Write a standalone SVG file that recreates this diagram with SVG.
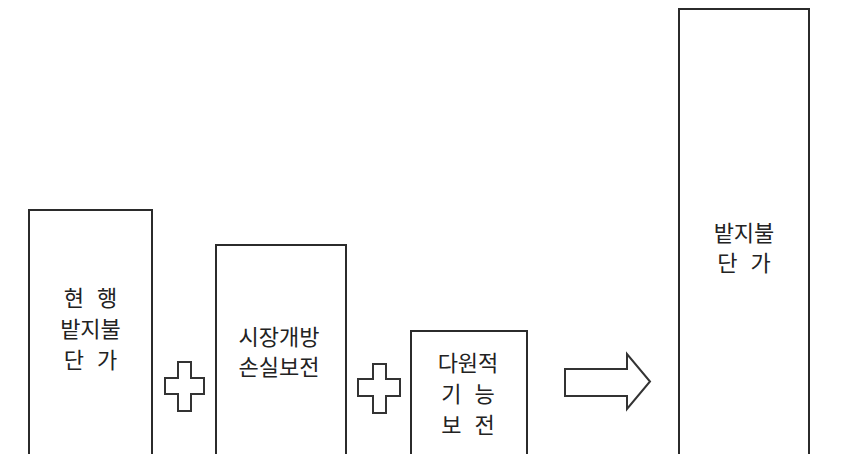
<svg xmlns="http://www.w3.org/2000/svg" width="864" height="454" viewBox="0 0 864 454">
<style>
.box{fill:#fff;stroke:#2b2b2b;stroke-width:2}
.sym{fill:#fff;stroke:#333;stroke-width:2;stroke-linejoin:miter}
.t{font-family:"Noto Sans CJK KR","Noto Sans CJK SC",sans-serif;font-size:22px;fill:#222;text-anchor:middle;word-spacing:8px}
</style>
<rect width="864" height="454" fill="#fff"/>
<g id="node-current">
<rect class="box" x="29" y="210" width="123" height="260"/>
<text class="t" x="90.5" y="306">현 행</text>
<text class="t" x="90.5" y="337">밭지불</text>
<text class="t" x="90.5" y="368">단 가</text>
</g>
<g id="node-market">
<rect class="box" x="216" y="245" width="130" height="225"/>
<text class="t" x="279" y="345">시장개방</text>
<text class="t" x="279" y="375">손실보전</text>
</g>
<g id="node-multi">
<rect class="box" x="411" y="331" width="116" height="140"/>
<text class="t" x="468" y="371">다원적</text>
<text class="t" x="468" y="402">기 능</text>
<text class="t" x="468" y="433">보 전</text>
</g>
<g id="node-result">
<rect class="box" x="679" y="9" width="130" height="460"/>
<text class="t" x="744" y="241">밭지불</text>
<text class="t" x="744" y="271">단 가</text>
</g>
<g id="connectors">
<path class="sym" d="M178,362 H191 V378 H204 V394 H191 V411 H178 V394 H165 V378 H178 Z"/>
<path class="sym" d="M373,364 H386 V379 H400 V396 H386 V413 H373 V396 H358 V379 H373 Z"/>
<path class="sym" d="M565,369 H627 V354 L650,381.5 L627,409 V396 H565 Z"/>
</g>
</svg>
